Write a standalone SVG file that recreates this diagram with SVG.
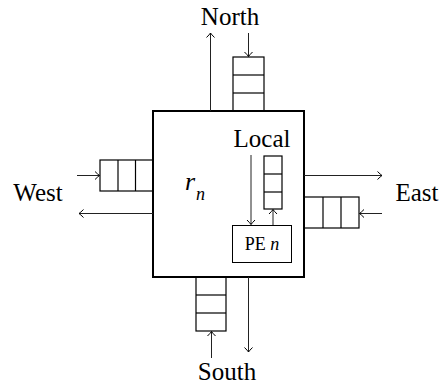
<svg xmlns="http://www.w3.org/2000/svg" width="444" height="387" viewBox="0 0 444 387" font-family="Liberation Serif, DejaVu Serif, serif">
<defs>
<marker id="ah" viewBox="-6 -5 7 10" markerWidth="7" markerHeight="10" refX="0" refY="0" orient="auto" markerUnits="userSpaceOnUse">
<path d="M-4.5,-4 Q-1.5,-1 0,0 Q-1.5,1 -4.5,4" fill="none" stroke="#000" stroke-width="1"/>
</marker>
</defs>
<style>
.box{fill:#fff;stroke:#000;stroke-width:2}
.q{fill:none;stroke:#000;stroke-width:1.2}
.c{fill:none;stroke:#222;stroke-width:1;marker-end:url(#ah)}
.pe{fill:#fff;stroke:#000;stroke-width:1}
</style>
<g id="router">
<rect class="box" x="153" y="111" width="151" height="166"/>
<text x="185" y="190" font-family="Liberation Serif" font-size="26" font-style="italic">r</text>
<text x="196" y="200" font-family="Liberation Serif" font-size="18" font-style="italic">n</text>
</g>
<g id="pe">
<rect class="pe" x="232.5" y="225.5" width="59" height="37"/>
<text x="262" y="250" font-family="Liberation Serif" font-size="18" text-anchor="middle">PE <tspan font-style="italic">n</tspan></text>
</g>
<g id="north-queue">
<rect class="q" x="233" y="57" width="31" height="54"/>
<line class="q" x1="233" y1="75" x2="264" y2="75"/>
<line class="q" x1="233" y1="93" x2="264" y2="93"/>
</g>
<g id="west-queue">
<rect class="q" x="100" y="160" width="53" height="31"/>
<line class="q" x1="118" y1="160" x2="118" y2="191"/>
<line class="q" x1="135.5" y1="160" x2="135.5" y2="191"/>
</g>
<g id="east-queue">
<rect class="q" x="304" y="197" width="55" height="31"/>
<line class="q" x1="323" y1="197" x2="323" y2="228"/>
<line class="q" x1="341" y1="197" x2="341" y2="228"/>
</g>
<g id="south-queue">
<rect class="q" x="196" y="277" width="30" height="54"/>
<line class="q" x1="196" y1="295" x2="226" y2="295"/>
<line class="q" x1="196" y1="313" x2="226" y2="313"/>
</g>
<g id="local-queue">
<rect class="q" x="264" y="156" width="18" height="53"/>
<line class="q" x1="264" y1="174" x2="282" y2="174"/>
<line class="q" x1="264" y1="192" x2="282" y2="192"/>
</g>
<g id="labels" font-family="Liberation Serif" font-size="25" text-anchor="middle" fill="#000">
<text x="230" y="25">North</text>
<text x="38" y="201">West</text>
<text x="417" y="201">East</text>
<text x="227" y="380">South</text>
<text x="262" y="147">Local</text>
</g>
<g id="connectors">
<line class="c" x1="210.5" y1="111" x2="210.5" y2="33"/>
<line class="c" x1="248.5" y1="33" x2="248.5" y2="56.5"/>
<line class="c" x1="77" y1="175.5" x2="99.5" y2="175.5"/>
<line class="c" x1="153" y1="213.5" x2="79" y2="213.5"/>
<line class="c" x1="304" y1="175.5" x2="382" y2="175.5"/>
<line class="c" x1="382" y1="213.5" x2="359.5" y2="213.5"/>
<line class="c" x1="211.5" y1="358" x2="211.5" y2="331.5"/>
<line class="c" x1="248.5" y1="277" x2="248.5" y2="352"/>
<line class="c" x1="251" y1="155" x2="251" y2="224.5"/>
<line class="c" x1="273" y1="225" x2="273" y2="209.5"/>
</g>
</svg>
